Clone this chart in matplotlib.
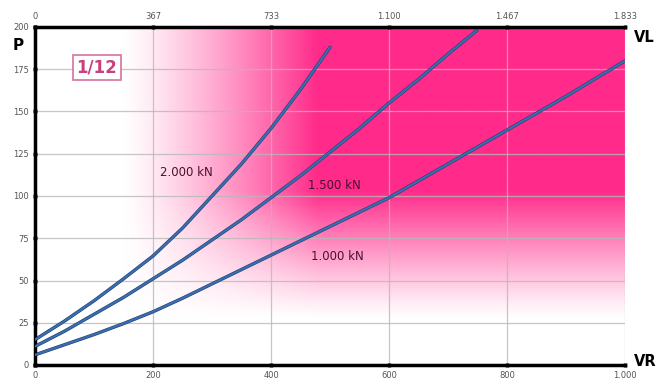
import numpy as np
import matplotlib
matplotlib.use("Agg")
import matplotlib.pyplot as plt
from matplotlib.colors import to_rgb

# ---- data ----
x_1000 = [0, 50, 100, 150, 200, 250, 300, 350, 400, 450, 500, 550, 600, 650, 700, 750, 800, 850, 900, 950, 1000]
p_1000 = [6, 12, 18, 24.5, 31.5, 39.5, 48, 56.5, 65, 73.5, 82, 90.5, 99, 109, 119, 129, 139, 149, 159, 169.5, 180]
x_1500 = [0, 50, 100, 150, 200, 250, 300, 350, 400, 450, 500, 550, 600, 650, 700, 749]
p_1500 = [11, 20, 30, 40, 51, 62, 74, 86, 99, 112, 126, 140, 155, 169, 184, 198]
x_2000 = [0, 50, 100, 150, 200, 250, 300, 350, 400, 450, 500]
p_2000 = [15, 26, 38, 51, 64.5, 81, 100, 119, 140, 163, 188]

bottom_ticks = [0, 200, 400, 600, 800, 1000]
bottom_labels = ["0", "200", "400", "600", "800", "1.000"]
top_labels = ["0", "367", "733", "1.100", "1.467", "1.833"]
y_ticks = [0, 25, 50, 75, 100, 125, 150, 175, 200]

series_labels = ["1.000 kN", "1.500 kN", "2.000 kN"]
label_pos = [(513, 64), (508, 106), (256, 114)]

fig = plt.figure(figsize=(6.57, 3.89), dpi=100)
ax = fig.add_axes([35/657, 1-365/389, 590/657, 338/389])
ax.set_xlim(0, 1000)
ax.set_ylim(0, 200)

# ---- pink gradient background ----
pink = np.array(to_rgb("#FF2A8A"))
xs = np.linspace(0, 1000, 500)
ys = np.linspace(0, 200, 300)
X, Y = np.meshgrid(xs, ys)
h = np.clip((X - 150) / (480 - 150), 0, 1) ** 1.2
v = np.clip((Y - 28) / (103 - 28), 0, 1) ** 1.1
a = (h * v)[..., None]
img = (1 - a) * np.ones(3) + a * pink
ax.imshow(img, extent=[0, 1000, 0, 200], origin="lower", aspect="auto", zorder=0, interpolation="bilinear")

ax.set_axisbelow(True)
ax.grid(True, color="#b8b8b8", linewidth=0.9, alpha=0.8, zorder=0.5)

line_color = "#3A6DB0"
for xv, pv in [(x_1000, p_1000), (x_1500, p_1500), (x_2000, p_2000)]:
    ax.plot(xv, pv, color="#1f3f6e", linewidth=2.4, zorder=2, solid_capstyle="round", solid_joinstyle="round")
    ax.plot(xv, pv, color=line_color, linewidth=1.6, zorder=3, solid_capstyle="round", solid_joinstyle="round")

for lab, (lx, ly) in zip(series_labels, label_pos):
    ax.text(lx, ly, lab, fontsize=8.5, color="#4a1030", ha="center", va="center", zorder=4)

ax.text(105, 176, "1/12", fontsize=12, fontweight="bold", color="#C9407E", ha="center", va="center",
        zorder=4, bbox=dict(boxstyle="square,pad=0.2", facecolor="white", edgecolor="#D870A0", linewidth=1.2))

ax.set_xticks(bottom_ticks)
ax.set_xticklabels(bottom_labels)
ax.set_yticks(y_ticks)
ax.set_yticklabels([str(t) for t in y_ticks])
ax.tick_params(axis="both", labelsize=6, labelcolor="#555555", direction="inout", length=3, width=2.5, color="black", pad=3)

for s in ["left", "bottom", "top"]:
    ax.spines[s].set_linewidth(2.5)
    ax.spines[s].set_color("black")
ax.spines["right"].set_visible(False)

ax2 = ax.twiny()
ax2.set_xlim(0, 1000)
ax2.set_xticks(bottom_ticks)
ax2.set_xticklabels(top_labels)
ax2.tick_params(axis="x", labelsize=6, labelcolor="#555555", direction="inout", length=3, width=2.5, color="black", pad=3)
for s in ["left", "bottom", "top", "right"]:
    ax2.spines[s].set_visible(False)

fig.text(18/657, 1-45/389, "P", fontsize=11, fontweight="bold", ha="center", va="center")
fig.text(634/657, 1-37/389, "VL", fontsize=10.5, fontweight="bold", ha="left", va="center")
fig.text(634/657, 1-362/389, "VR", fontsize=10.5, fontweight="bold", ha="left", va="center")

fig.savefig("out.png", dpi=100)
